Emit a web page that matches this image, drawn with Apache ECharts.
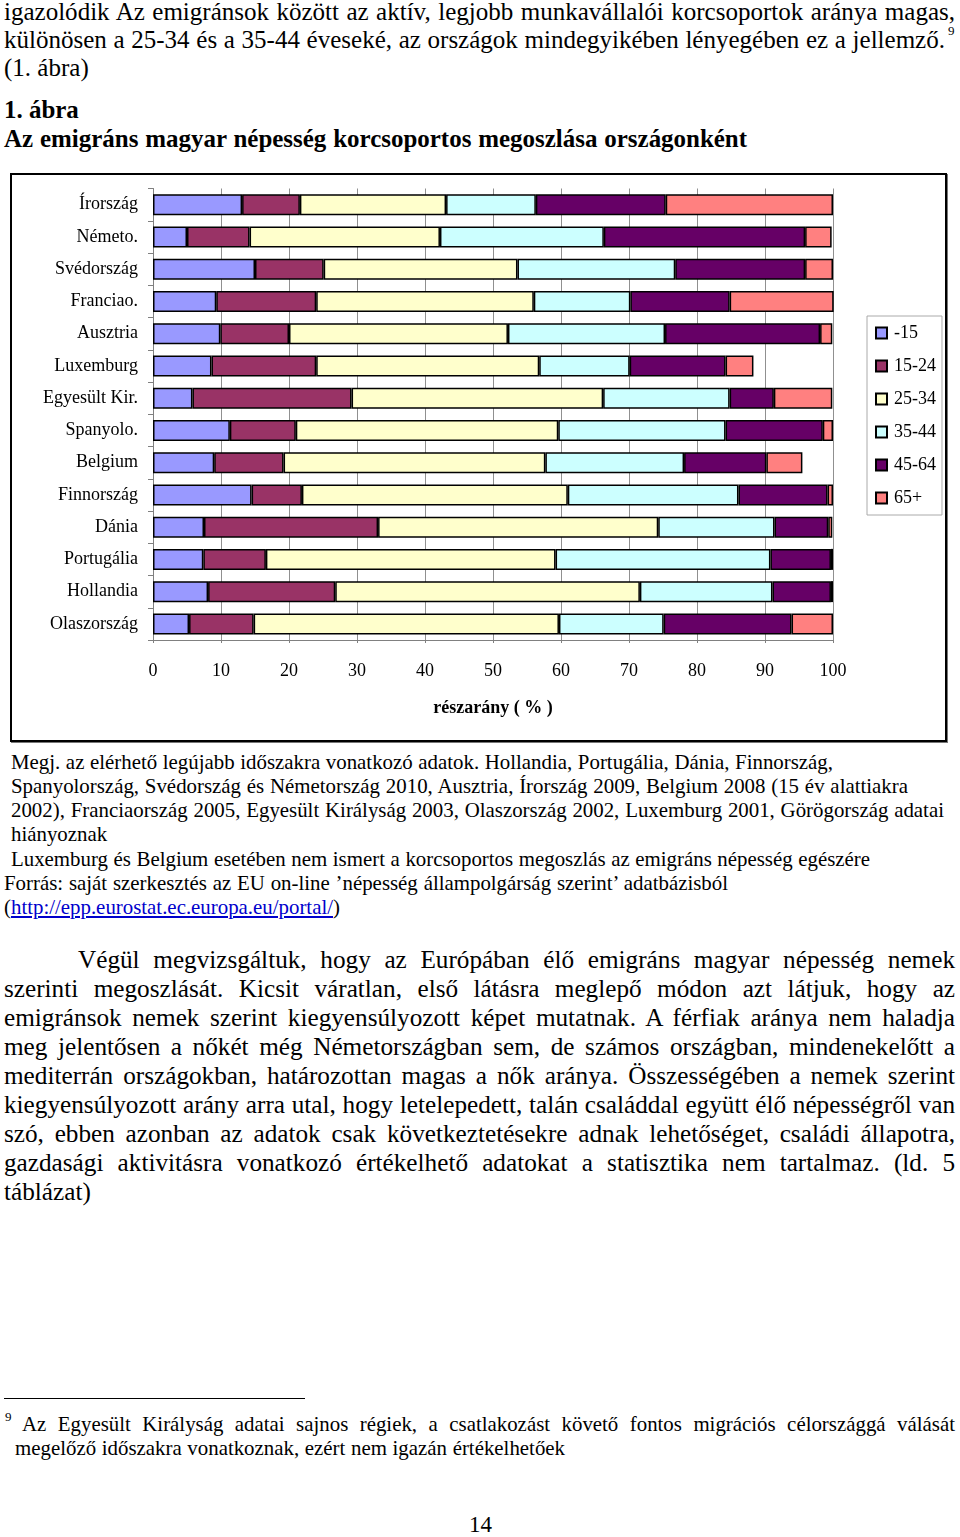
<!DOCTYPE html>
<html><head><meta charset="utf-8">
<script src="https://cdn.jsdelivr.net/npm/echarts@6/dist/echarts.min.js"></script>
<style>
html,body{margin:0;padding:0;background:#fff;}
#page{position:relative;width:960px;height:1537px;overflow:hidden;font-family:"Liberation Serif","Times New Roman",serif;color:#000;}
.t{position:absolute;white-space:nowrap;font-size:20px;}
#chartbox{position:absolute;left:10px;top:173px;width:937px;height:569px;box-sizing:border-box;border:2px solid #000;box-shadow:1px 1px 0 #777;}
#chart{width:100%;height:100%;}
a{color:#0000cc;text-decoration:underline;}
</style></head>
<body><div id="page">
<div class="t" data-g="top" data-w="951" style="left:4px;top:-2px;line-height:28px;">igazolódik Az emigránsok között az aktív, legjobb munkavállalói korcsoportok aránya magas,</div>
<div class="t" data-g="top" data-w="941" style="left:4px;top:26px;line-height:28px;">különösen a 25-34 és a 35-44 éveseké, az országok mindegyikében lényegében ez a jellemző.</div>
<div class="t" style="left:948px;top:24px;font-size:13px;line-height:13px;">9</div>
<div class="t" data-g="top" style="left:4px;top:54px;line-height:28px;">(1. ábra)</div>
<div class="t" data-g="title" style="left:4px;top:96px;line-height:28px;font-weight:bold;">1. ábra</div>
<div class="t" data-g="title" data-w="743" style="left:4px;top:125px;line-height:28px;font-weight:bold;">Az emigráns magyar népesség korcsoportos megoszlása országonként</div>

<div id="chartbox"><div id="chart"></div></div>

<div class="t" data-g="notes" data-w="822" style="left:11px;top:750px;line-height:24px;">Megj. az elérhető legújabb időszakra vonatkozó adatok. Hollandia, Portugália, Dánia, Finnország,</div>
<div class="t" data-g="notes" data-w="897" style="left:11px;top:774px;line-height:24px;">Spanyolország, Svédország és Németország 2010, Ausztria, Írország 2009, Belgium 2008 (15 év alattiakra</div>
<div class="t" data-g="notes" data-w="933" style="left:11px;top:798px;line-height:24px;">2002), Franciaország 2005, Egyesült Királyság 2003, Olaszország 2002, Luxemburg 2001, Görögország adatai</div>
<div class="t" data-g="notes" style="left:11px;top:822px;line-height:24px;">hiányoznak</div>
<div class="t" data-g="notes" data-w="859" style="left:11px;top:847px;line-height:24px;">Luxemburg és Belgium esetében nem ismert a korcsoportos megoszlás az emigráns népesség egészére</div>
<div class="t" data-g="notes" data-w="724" style="left:4px;top:871px;line-height:24px;">Forrás: saját szerkesztés az EU on-line ’népesség állampolgárság szerint’ adatbázisból</div>
<div class="t" data-g="notes" style="left:4px;top:895px;line-height:24px;">(<a>http://epp.eurostat.ec.europa.eu/portal/</a>)</div>

<div class="t" data-g="para" data-w="877" style="left:78px;top:946px;line-height:28px;">Végül megvizsgáltuk, hogy az Európában élő emigráns magyar népesség nemek</div>
<div class="t" data-g="para" data-w="951" style="left:4px;top:975px;line-height:28px;">szerinti megoszlását. Kicsit váratlan, első látásra meglepő módon azt látjuk, hogy az</div>
<div class="t" data-g="para" data-w="951" style="left:4px;top:1004px;line-height:28px;">emigránsok nemek szerint kiegyensúlyozott képet mutatnak. A férfiak aránya nem haladja</div>
<div class="t" data-g="para" data-w="951" style="left:4px;top:1033px;line-height:28px;">meg jelentősen a nőkét még Németországban sem, de számos országban, mindenekelőtt a</div>
<div class="t" data-g="para" data-w="951" style="left:4px;top:1062px;line-height:28px;">mediterrán országokban, határozottan magas a nők aránya. Összességében a nemek szerint</div>
<div class="t" data-g="para" data-w="951" style="left:4px;top:1091px;line-height:28px;">kiegyensúlyozott arány arra utal, hogy letelepedett, talán családdal együtt élő népességről van</div>
<div class="t" data-g="para" data-w="951" style="left:4px;top:1120px;line-height:28px;">szó, ebben azonban az adatok csak következtetésekre adnak lehetőséget, családi állapotra,</div>
<div class="t" data-g="para" data-w="951" style="left:4px;top:1149px;line-height:28px;">gazdasági aktivitásra vonatkozó értékelhető adatokat a statisztika nem tartalmaz. (ld. 5</div>
<div class="t" data-g="para" style="left:4px;top:1178px;line-height:28px;">táblázat)</div>

<div style="position:absolute;left:4px;top:1398px;width:301px;height:1px;background:#000;"></div>
<div class="t" style="left:5px;top:1410px;font-size:13px;line-height:13px;">9</div>
<div class="t" data-g="foot" data-w="933" style="left:22px;top:1412px;line-height:24px;">Az Egyesült Királyság adatai sajnos régiek, a csatlakozást követő fontos migrációs célországgá válását</div>
<div class="t" data-g="foot" data-w="550" style="left:15px;top:1436px;line-height:24px;">megelőző időszakra vonatkoznak, ezért nem igazán értékelhetőek</div>
<div class="t" style="left:469px;top:1511px;font-size:23px;line-height:28px;">14</div>
</div>
<script>
// size each text block so its tightest line fits, then justify via word spacing
(function(){
  var groups={};
  document.querySelectorAll('[data-g]').forEach(function(el){
    (groups[el.dataset.g]=groups[el.dataset.g]||[]).push(el);
  });
  Object.keys(groups).forEach(function(g){
    var els=groups[g], base=20, ratio=Infinity;
    els.forEach(function(el){
      el.style.fontSize=base+'px';
      if(el.dataset.w){
        var r=(+el.dataset.w)/el.getBoundingClientRect().width;
        if(r<ratio) ratio=r;
      }
    });
    var fs=base*ratio*0.995;
    els.forEach(function(el){
      el.style.fontSize=fs.toFixed(2)+'px';
      if(el.dataset.w){
        var w=el.getBoundingClientRect().width;
        var spaces=(el.textContent.match(/ /g)||[]).length;
        if(spaces>0) el.style.wordSpacing=((+el.dataset.w-w)/spaces).toFixed(2)+'px';
      }
    });
  });
})();

const categories = ['Írország','Németo.','Svédország','Franciao.','Ausztria','Luxemburg','Egyesült Kir.','Spanyolo.','Belgium','Finnország','Dánia','Portugália','Hollandia','Olaszország'];
const seriesNames = ['-15','15-24','25-34','35-44','45-64','65+'];
const under15  = [13.1, 5.0, 15.0,  9.3,  9.9,  8.6,  5.8, 11.3,  9.0, 14.5,  7.5,  7.4,  8.1,  5.3];
const age15_24 = [ 8.5, 9.2, 10.1, 14.7, 10.1, 15.4, 23.4,  9.7, 10.2,  7.4, 25.6,  9.2, 18.7,  9.5];
const age25_34 = [21.5,28.0, 28.5, 32.0, 32.2, 32.8, 37.0, 38.6, 38.5, 39.1, 41.2, 42.6, 44.8, 44.9];
const age35_44 = [13.2,24.1, 23.2, 14.2, 23.1, 13.3, 18.6, 24.6, 20.4, 25.1, 17.1, 31.6, 19.5, 15.4];
const age45_64 = [19.1,29.6, 19.1, 14.6, 22.8, 14.1,  6.5, 14.3, 12.1, 13.1,  7.9,  8.9,  8.6, 18.8];
const age65    = [24.6, 3.9,  4.1, 15.3,  1.8,  4.1,  8.6,  1.5,  5.3,  0.8,  0.6,  0.3,  0.3,  6.1];
const xTicks = [0,10,20,30,40,50,60,70,80,90,100];
const colors = ['#9999FF','#993366','#FFFFCC','#CCFFFF','#660066','#FF8080'];
const values = [under15, age15_24, age25_34, age35_44, age45_64, age65];

const chart = echarts.init(document.getElementById('chart'), null, {renderer:'canvas'});
const font = '"Liberation Serif","Times New Roman",serif';
chart.setOption({
  animation:false,
  grid:{left:141, top:13.5, width:680, height:451.5, containLabel:false},
  legend:{
    orient:'vertical', left:855, top:141,
    data:seriesNames, icon:'rect', itemWidth:11, itemHeight:11, itemGap:15,
    padding:[8,6,8,8], borderColor:'#aaa', borderWidth:1,
    textStyle:{fontFamily:font, fontSize:18, color:'#000', lineHeight:18, padding:[0,0,0,2]}
  },
  xAxis:{
    type:'value', min:xTicks[0], max:xTicks[xTicks.length-1], interval:10,
    name:'részarány ( % )', nameLocation:'middle', nameGap:59,
    nameTextStyle:{fontFamily:font, fontSize:18, fontWeight:'bold', color:'#000'},
    axisLine:{show:true, lineStyle:{color:'#808080', width:1}},
    axisTick:{show:true, length:3, lineStyle:{color:'#808080'}},
    axisLabel:{fontFamily:font, fontSize:18, color:'#000', margin:22},
    splitLine:{show:true, lineStyle:{color:'#909090', width:1}}
  },
  yAxis:{
    type:'category', data:categories, inverse:true,
    axisLine:{show:true, lineStyle:{color:'#808080', width:1}},
    axisTick:{show:true, length:5, lineStyle:{color:'#808080'}},
    axisLabel:{fontFamily:font, fontSize:18, color:'#000', margin:15},
    splitLine:{show:false}
  },
  series: seriesNames.map(function(n,i){
    return {
      name:n, type:'bar', stack:'all', data:values[i], barWidth:21,
      itemStyle:{color:colors[i], borderColor:'#000', borderWidth:1.5}
    };
  })
});
</script>
</body></html>
